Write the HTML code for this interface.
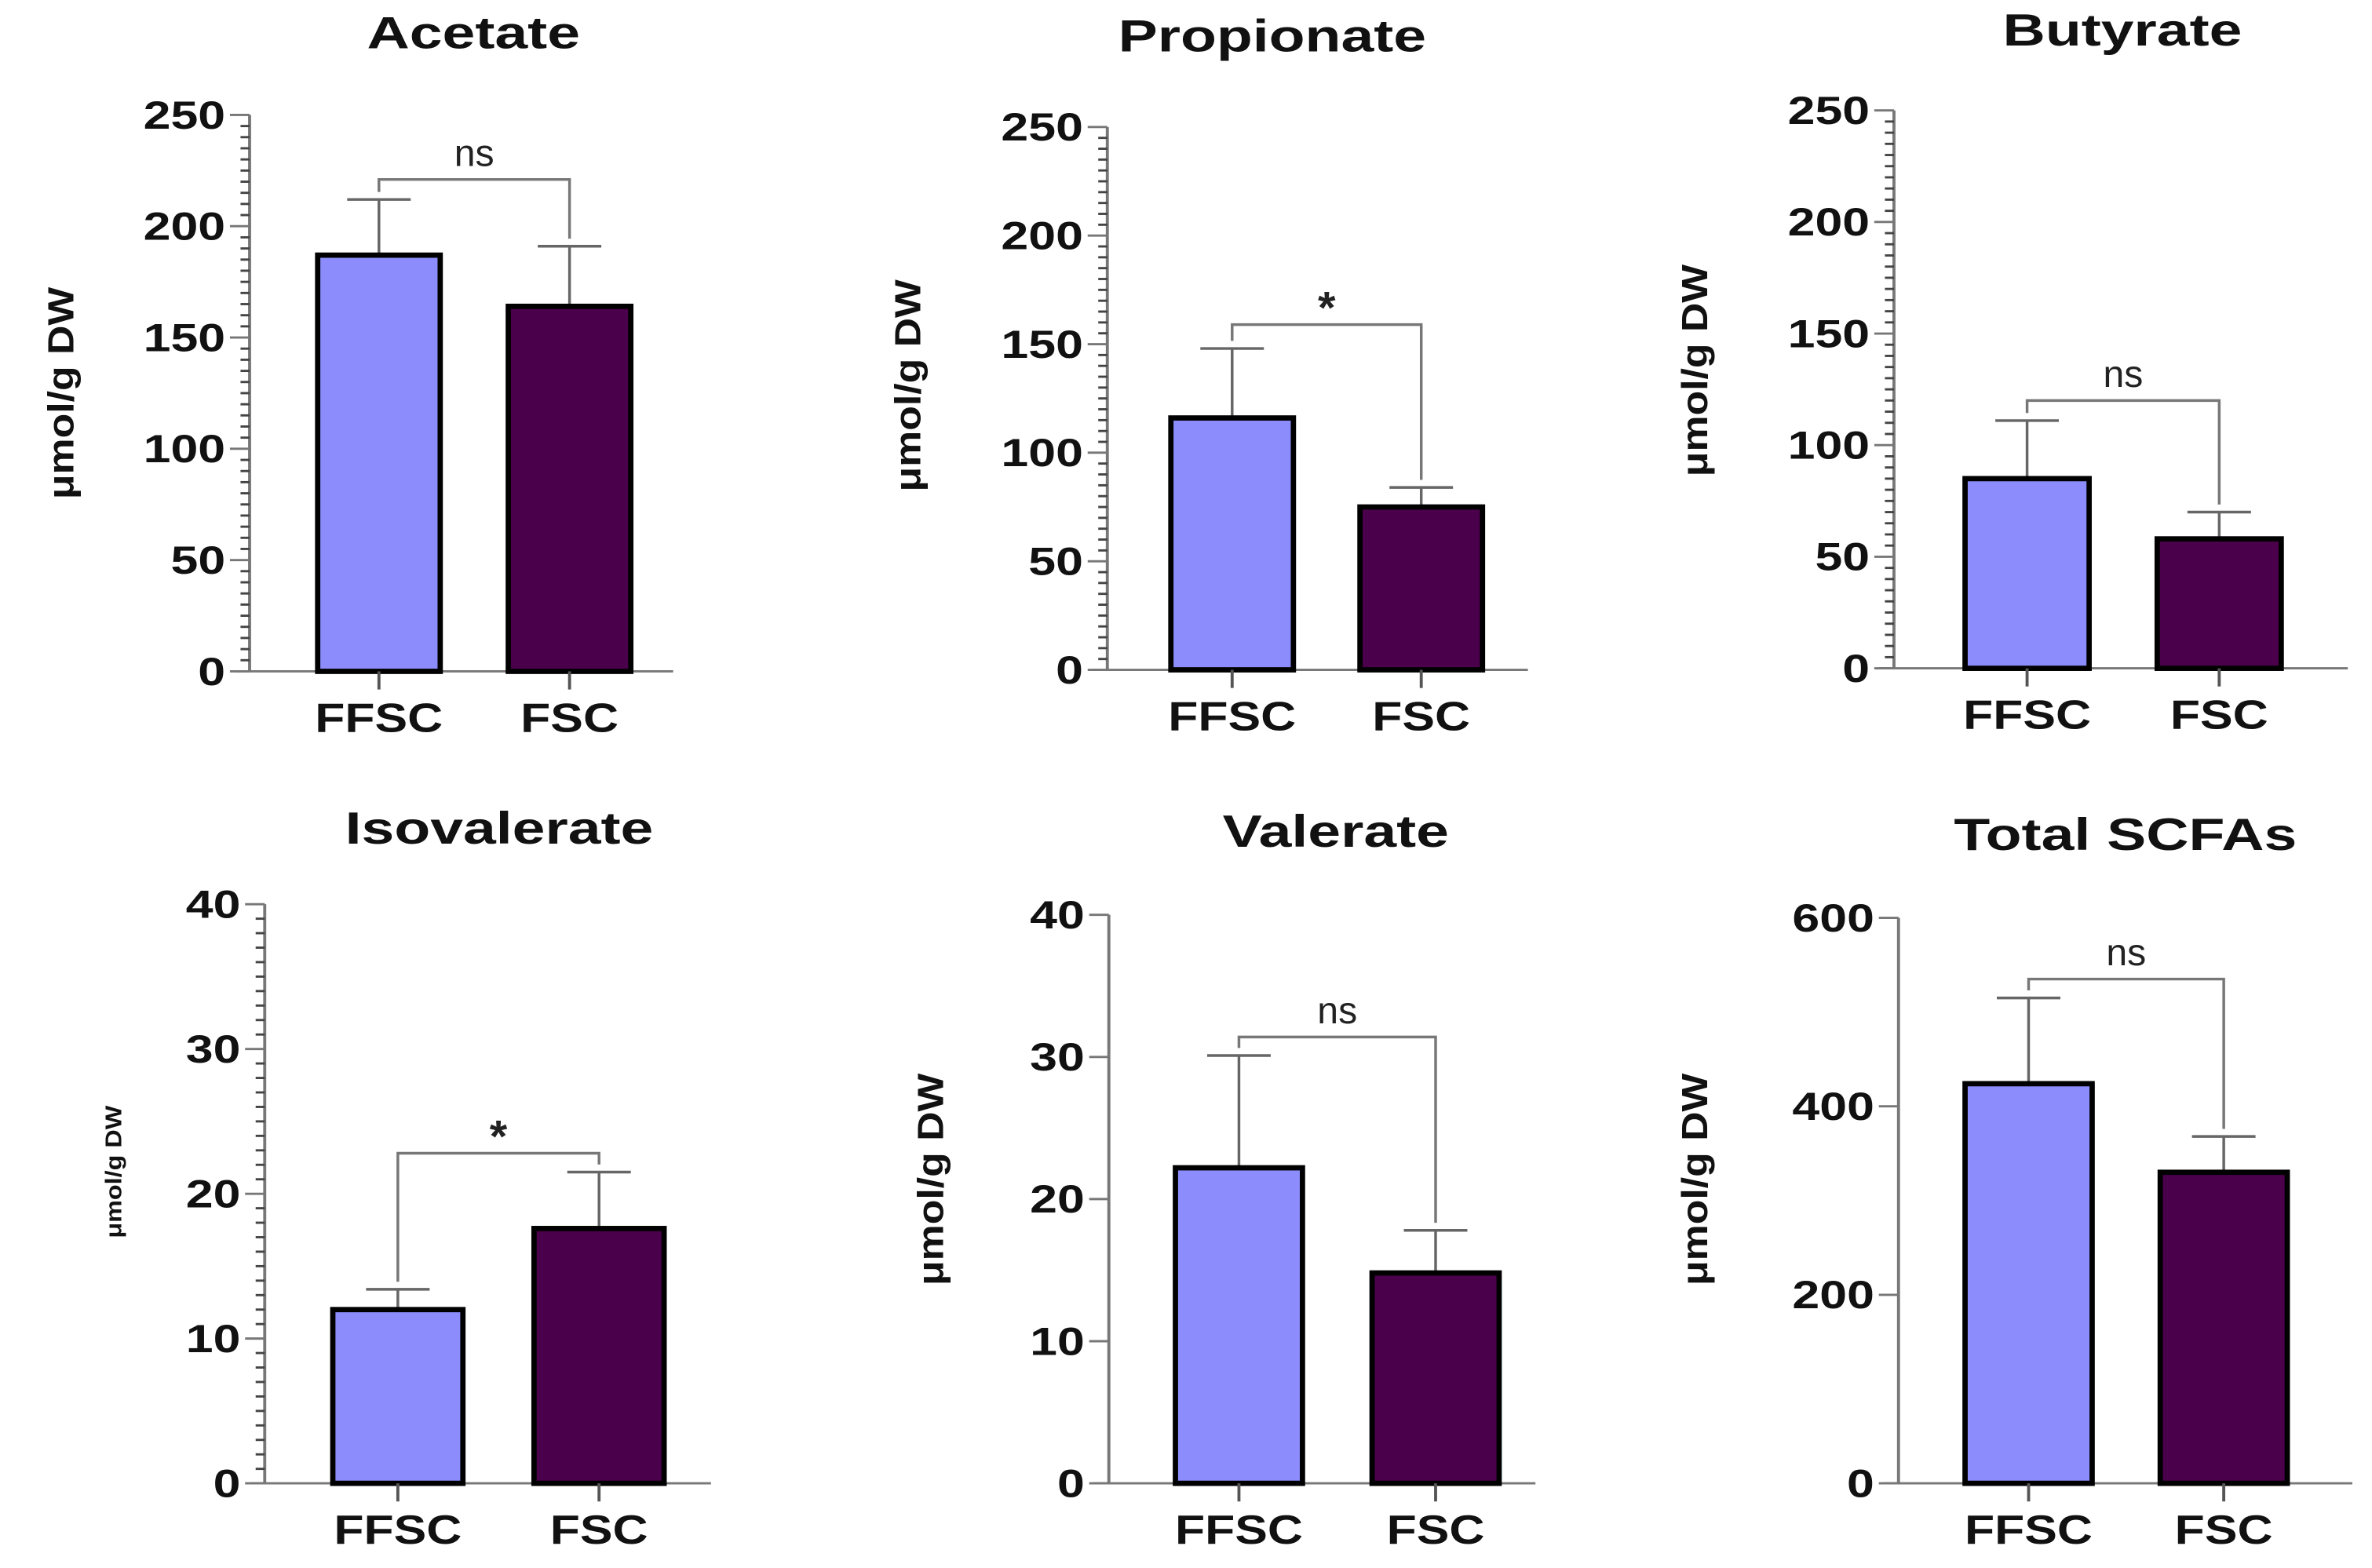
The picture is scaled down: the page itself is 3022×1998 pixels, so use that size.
<!DOCTYPE html>
<html><head><meta charset="utf-8"><style>
html,body{margin:0;padding:0;background:#fff;}
svg{display:block;}
text{font-family:"Liberation Sans",Arial,sans-serif;}
</style></head><body>
<svg id="fig" width="3022" height="1998" viewBox="0 0 1568 1037" preserveAspectRatio="none" xmlns="http://www.w3.org/2000/svg"></svg>
<script>
const titles = ["Acetate","Propionate","Butyrate","Isovalerate","Valerate","Total SCFAs"];
const categories = ["FFSC","FSC"];
const ffscValues = [187,116,85,12,22.2,424];
const ffscErr = [212,148,111,13.4,30.1,515];
const fscValues = [164,75,58,17.6,14.8,330];
const fscErr = [191,84,70,21.5,17.8,368];
const yMax = [250,250,250,40,40,600];
const yStep = [50,50,50,10,10,200];
const minorStep = [5,5,5,1,0,0];
const sigLabels = ["ns","*","ns","*","ns","ns"];
const bracketVals = [221,159,120,22.8,31.4,535];

// layout (not data)
const L = [
 {ax:165,y0:444,yt:76,xe:445,b1:210,b2:336,bw:81,tx:313,ty:22,lx:40,ly:260,lf:24},
 {ax:732,y0:443,yt:84,xe:1010,b1:774,b2:899,bw:81,tx:841,ty:24,lx:600,ly:255,lf:24},
 {ax:1252,y0:442,yt:73,xe:1552,b1:1299,b2:1426,bw:82,tx:1403,ty:20,lx:1120,ly:245,lf:24},
 {ax:175,y0:981,yt:598,xe:470,b1:220,b2:353,bw:86,tx:330,ty:548,lx:75,ly:775,lf:15},
 {ax:733,y0:981,yt:605,xe:1015,b1:777,b2:907,bw:84,tx:883,ty:550,lx:615,ly:780,lf:24},
 {ax:1255,y0:981,yt:607,xe:1555,b1:1299,b2:1428,bw:84,tx:1405,ty:552,lx:1120,ly:780,lf:24}
];
const NS="http://www.w3.org/2000/svg";
const svg=document.getElementById('fig');
function mk(tag,attrs,parent){const e=document.createElementNS(NS,tag);for(const k in attrs)e.setAttribute(k,attrs[k]);(parent||svg).appendChild(e);return e;}
function widen(t,f){const n=t.getComputedTextLength();if(n>0){t.setAttribute('textLength',n*f);t.setAttribute('lengthAdjust','spacingAndGlyphs');}}
for(let p=0;p<6;p++){
 const l=L[p];
 const g=mk('g',{});
 
 
 const y=v=>l.y0-(v/yMax[p])*(l.y0-l.yt);
 const t=mk('text',{x:l.tx,y:l.ty+10,'text-anchor':'middle','font-size':30,'font-weight':'bold',fill:'#111'},g);
 t.textContent=titles[p];
 
 
 widen(t,1.3);
 const yl=mk('text',{x:0,y:0,transform:`translate(${l.lx+l.lf*0.35},${l.ly}) rotate(-90)`,'text-anchor':'middle','font-size':l.lf,'font-weight':'bold',fill:'#111'},g);
 yl.textContent='μmol/g DW';
 
 
 widen(yl,1.12);
 const ya=mk('line',{x1:l.ax,y1:l.yt,x2:l.ax,y2:l.y0,stroke:'#777','stroke-width':2},g);
 
 
 const xa=mk('line',{x1:l.ax-10,y1:l.y0,x2:l.xe,y2:l.y0,stroke:'#777','stroke-width':1.5},g);
 
 
 if(minorStep[p]>0){
  for(let v=minorStep[p];v<yMax[p];v+=minorStep[p]){
   if(Math.abs(v/yStep[p]-Math.round(v/yStep[p]))<1e-6)continue;
   mk('line',{x1:l.ax-6,y1:y(v),x2:l.ax,y2:y(v),stroke:'#444','stroke-width':1.5},g);
  }
 }
 for(let v=0;v<=yMax[p]+1e-6;v+=yStep[p]){
  mk('line',{x1:l.ax-13,y1:y(v),x2:l.ax,y2:y(v),stroke:'#777','stroke-width':1.5},g);
  const tl=mk('text',{x:l.ax-16,y:y(v)+9,'text-anchor':'end','font-size':26,'font-weight':'bold',fill:'#111'},g);
  tl.textContent=v;
  
  
  widen(tl,1.25);
 }
 const vals=[ffscValues[p],fscValues[p]], errs=[ffscErr[p],fscErr[p]], xs=[l.b1,l.b2], cols=['#8c8cfc','#4b004b'];
 const centers=[];
 for(let i=0;i<2;i++){
  const cx=xs[i]+l.bw/2; centers.push(cx);
  mk('line',{x1:cx,y1:y(vals[i]),x2:cx,y2:y(errs[i]),stroke:'#666','stroke-width':1.8},g);
  mk('line',{x1:cx-21,y1:y(errs[i]),x2:cx+21,y2:y(errs[i]),stroke:'#666','stroke-width':1.8},g);
  const r=mk('rect',{x:xs[i],y:y(vals[i]),width:l.bw,height:y(0)-y(vals[i]),fill:cols[i],stroke:'#000','stroke-width':3.5},g);
  
  
  mk('line',{x1:cx,y1:l.y0,x2:cx,y2:l.y0+12,stroke:'#555','stroke-width':2},g);
  const xl=mk('text',{x:cx,y:l.y0+40,'text-anchor':'middle','font-size':27,'font-weight':'bold',fill:'#111'},g);
  xl.textContent=categories[i];
  
  
  widen(xl,1.2);
 }
 const by=y(bracketVals[p]);
 const br=mk('path',{d:`M${centers[0]},${y(errs[0])-5} V${by} H${centers[1]} V${y(errs[1])-5}`,fill:'none',stroke:'#777','stroke-width':1.8},g);
 
 
 const s=sigLabels[p];
 const st=mk('text',{x:(centers[0]+centers[1])/2,y:s==='*'?by-1:by-9,'text-anchor':'middle','font-size':s==='*'?30:25,'font-weight':s==='*'?'bold':'normal',fill:'#222'},g);
 st.textContent=s;
 
 
}
</script>
</body></html>
